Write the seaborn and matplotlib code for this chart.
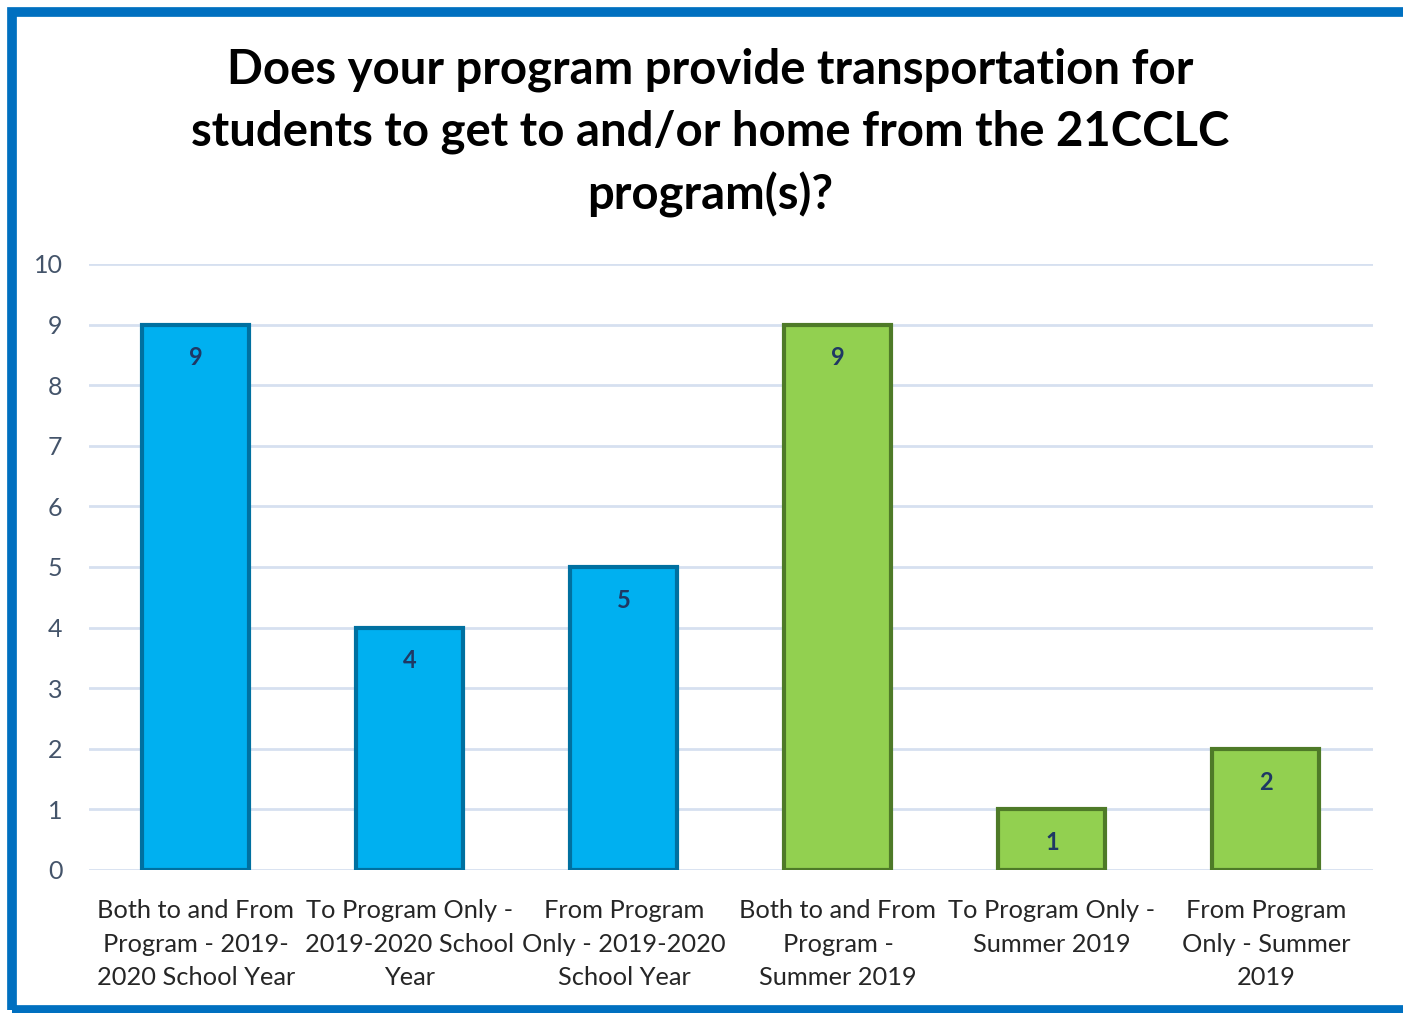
import numpy as np
import pandas as pd
import seaborn as sns
import matplotlib.pyplot as plt
from matplotlib.patches import Rectangle

sns.set_theme(style="white")
plt.rcParams['font.family'] = ['Lato', 'DejaVu Sans']

categories = [
    "Both to and From\nProgram - 2019-\n2020 School Year",
    "To Program Only -\n2019-2020 School\nYear",
    "From Program\nOnly - 2019-2020\nSchool Year",
    "Both to and From\nProgram -\nSummer 2019",
    "To Program Only -\nSummer 2019",
    "From Program\nOnly - Summer\n2019",
]
counts = [9, 4, 5, 9, 1, 2]
bar_colors = ["#00B0F0", "#00B0F0", "#00B0F0", "#92D050", "#92D050", "#92D050"]
edge_colors = ["#0070A0", "#0070A0", "#0070A0", "#4E7A28", "#4E7A28", "#4E7A28"]
title = "Does your program provide transportation for\nstudents to get to and/or home from the 21CCLC\nprogram(s)?"

df = pd.DataFrame({"category": categories, "count": counts})

fig = plt.figure(figsize=(14.03, 10.13), dpi=100)
ax = fig.add_axes([0.0634, 0.1412, 0.9152, 0.5982])

sns.barplot(data=df, x="category", y="count", hue="category", palette=bar_colors,
            width=0.5, legend=False, ax=ax, saturation=1, zorder=3)

for p, ec in zip(ax.patches, edge_colors):
    p.set_edgecolor(ec)
    p.set_linewidth(3)

for i, v in enumerate(counts):
    ax.text(i, v - 0.55, str(v), ha="center", va="center", fontsize=17,
            fontweight="bold", color="#1F3864", zorder=4)

ax.set_ylim(0, 10)
ax.set_xlim(-0.5, 5.5)
ax.set_yticks(range(0, 11))
ax.yaxis.grid(True, color="#D6E0F0", linewidth=2, zorder=0)
ax.tick_params(axis="y", labelsize=18, labelcolor="#44546A", length=0, pad=19)
ax.tick_params(axis="x", labelsize=18.3, labelcolor="#262626", length=0, pad=21)
for lbl in ax.get_xticklabels():
    lbl.set_linespacing(1.55)
ax.set_xlabel("")
ax.set_ylabel("")
for s in ax.spines.values():
    s.set_visible(False)

fig.text(0.506, 0.869, title, ha="center", va="center", fontsize=34,
         fontweight="bold", color="black", linespacing=1.47)

# outer blue frame
fig.add_artist(Rectangle((12 / 1403, 3 / 1013), 1.05, 1 - 15 / 1013,
                         transform=fig.transFigure, fill=False,
                         edgecolor="#0070C0", linewidth=7))

fig.savefig("out.png", dpi=100)
